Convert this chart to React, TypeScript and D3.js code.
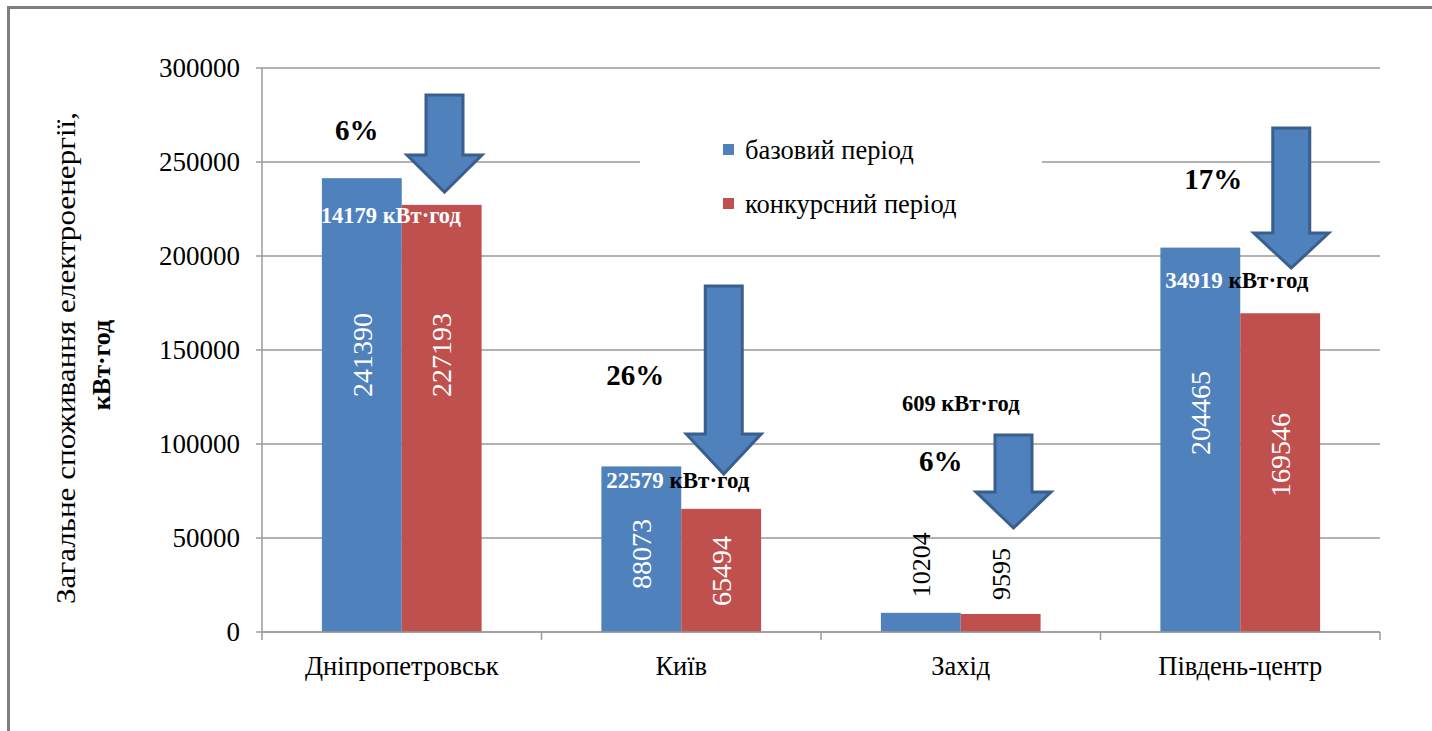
import React from "react";
import * as d3 from "d3";

const categories = ["Дніпропетровськ", "Київ", "Захід", "Південь-центр"];
const baseValues = [241390, 88073, 10204, 204465];
const contestValues = [227193, 65494, 9595, 169546];
const seriesNames = ["базовий період", "конкурсний період"];
const yTicks = [0, 50000, 100000, 150000, 200000, 250000, 300000];
// value at which each in-bar label is centred (as placed in the original)
const baseLabelAt = [147300, 41500, null, 116500];
const contestLabelAt = [147300, 32400, null, 94100];
const percentLabels = ["6%", "26%", "6%", "17%"];
const savingNumbers = ["14179", "22579", "609", "34919"];
const savingUnit = "кВт·год";
// arrows: top value, head-start value, tip value
const arrowTop = [285600, 184000, 104800, 268100];
const arrowHead = [253700, 105300, 74500, 212200];
const arrowTip = [234000, 84000, 55300, 193600];

const W = 1432;
const H = 731;
const BLUE = "#4f81bd";
const RED = "#c0504d";
const AXIS = "#9a9a9a";
const TF: React.CSSProperties = { fontFamily: "'Liberation Serif', 'Times New Roman', serif" };

export default function App() {
  const left = 262, right = 1380, top = 68, bottom = 632;
  const x = d3.scaleBand<string>().domain(categories).range([left, right]).paddingInner(0).paddingOuter(0);
  const band = x.bandwidth();
  const barW = band / 3.5;
  const y = d3.scaleLinear().domain([0, 300000]).range([bottom, top]);
  const cx = (i: number) => (x(categories[i]) as number) + band / 2;

  const arrowDx = [42.75, 42.5, 52.75, 51];
  const arrowPath = (i: number) => {
    const c = cx(i) + arrowDx[i];
    const sw = 18.5, hw = 37.5;
    const t = y(arrowTop[i]), h = y(arrowHead[i]), p = y(arrowTip[i]);
    return `M${c - sw},${t}L${c + sw},${t}L${c + sw},${h}L${c + hw},${h}L${c},${p}L${c - hw},${h}L${c - sw},${h}Z`;
  };

  const pctPos = [
    { dx: -45, v: 267000 },
    { dx: -46, v: 137000 },
    { dx: -20, v: 90800 },
    { dx: -27, v: 240800 },
  ];

  return (
    <svg width={W} height={H} style={{ position: "absolute", left: 0, top: 0, background: "#fff" }}>
      <rect x={0} y={0} width={W} height={H} fill="#fff" />
      <rect x={8.5} y={7.5} width={W + 20} height={H + 20} fill="none" stroke="#7f7f7f" strokeWidth={3} />

      {/* gridlines */}
      {yTicks.map((t) => (
        <line key={t} x1={left} x2={right} y1={y(t)} y2={y(t)} stroke={AXIS} strokeWidth={1.5} />
      ))}
      {/* y axis */}
      <line x1={left} x2={left} y1={top} y2={bottom} stroke={AXIS} strokeWidth={1.5} />
      {yTicks.map((t) => (
        <line key={"tk" + t} x1={left - 6} x2={left} y1={y(t)} y2={y(t)} stroke={AXIS} strokeWidth={1.5} />
      ))}
      {yTicks.map((t) => (
        <text key={"tl" + t} x={left - 22} y={y(t)} dy="0.35em" textAnchor="end" fontSize={27} fill="#000" style={TF}>
          {t}
        </text>
      ))}
      {/* category ticks */}
      {categories.map((c) => (
        <line key={"ct" + c} x1={x(c) as number} x2={x(c) as number} y1={bottom} y2={bottom + 8} stroke={AXIS} strokeWidth={1.5} />
      ))}
      <line x1={right} x2={right} y1={bottom} y2={bottom + 8} stroke={AXIS} strokeWidth={1.5} />

      {/* legend */}
      <rect x={640} y={112} width={402} height={120} fill="#fff" />
      <rect x={723} y={144} width={11} height={11} fill={BLUE} />
      <text x={745} y={150} dy="0.35em" fontSize={26.5} style={TF}>{seriesNames[0]}</text>
      <rect x={723} y={198} width={11} height={11} fill={RED} />
      <text x={745} y={204} dy="0.35em" fontSize={26.5} style={TF}>{seriesNames[1]}</text>

      {/* bars */}
      {categories.map((c, i) => {
        const x0 = cx(i) - barW;
        return (
          <g key={"b" + c}>
            <rect x={x0} y={y(baseValues[i])} width={barW} height={bottom - y(baseValues[i])} fill={BLUE} />
            <rect x={x0 + barW} y={y(contestValues[i])} width={barW} height={bottom - y(contestValues[i])} fill={RED} />
          </g>
        );
      })}
      <line x1={left} x2={right} y1={bottom} y2={bottom} stroke={AXIS} strokeWidth={1.5} />

      {/* value labels */}
      {categories.map((c, i) => {
        const bx = cx(i) - barW / 2;
        const rx = cx(i) + barW / 2;
        const inside = baseLabelAt[i] !== null;
        const by = inside ? y(baseLabelAt[i] as number) : y(baseValues[i]) - 48;
        const ry = inside ? y(contestLabelAt[i] as number) : y(contestValues[i]) - 40;
        const fill = inside ? "#fff" : "#000";
        const fs = inside ? 28 : 26;
        return (
          <g key={"vl" + c}>
            <text transform={`translate(${bx},${by}) rotate(-90)`} textAnchor="middle" dy="0.35em" fontSize={fs} fill={fill} style={TF}>{baseValues[i]}</text>
            <text transform={`translate(${rx},${ry}) rotate(-90)`} textAnchor="middle" dy="0.35em" fontSize={fs} fill={fill} style={TF}>{contestValues[i]}</text>
          </g>
        );
      })}

      {/* arrows */}
      {categories.map((c, i) => (
        <path key={"ar" + c} d={arrowPath(i)} fill={BLUE} stroke="#3a5f8c" strokeWidth={3} strokeLinejoin="miter" />
      ))}

      {/* percent labels */}
      {categories.map((c, i) => (
        <text key={"pc" + c} x={cx(i) + pctPos[i].dx} y={y(pctPos[i].v)} dy="0.35em" textAnchor="middle" fontSize={29} fontWeight="bold" style={TF}>
          {percentLabels[i]}
        </text>
      ))}

      {/* saving labels */}
      <text x={cx(0) - 81} y={y(222000)} dy="0.35em" fontSize={22.5} fontWeight="bold" fill="#fff" style={TF}>
        {savingNumbers[0]} {savingUnit}
      </text>
      <text x={cx(1) - 75} y={y(81000)} dy="0.35em" fontSize={23} fontWeight="bold" style={TF}>
        <tspan fill="#fff">{savingNumbers[1]}</tspan> <tspan fill="#000">{savingUnit}</tspan>
      </text>
      <text x={cx(2)} y={y(121500)} dy="0.35em" textAnchor="middle" fontSize={22.5} fontWeight="bold" style={TF}>
        {savingNumbers[2]} {savingUnit}
      </text>
      <text x={cx(3) - 75} y={y(187000)} dy="0.35em" fontSize={23} fontWeight="bold" style={TF}>
        <tspan fill="#fff">{savingNumbers[3]}</tspan> <tspan fill="#000">{savingUnit}</tspan>
      </text>

      {/* category labels */}
      {categories.map((c, i) => (
        <text key={"cl" + c} x={cx(i)} y={666} dy="0.35em" textAnchor="middle" fontSize={26.5} style={TF}>
          {c}
        </text>
      ))}

      {/* y axis title */}
      <text transform={`translate(66,358) rotate(-90)`} textAnchor="middle" dy="0.35em" fontSize={27} textLength={492} lengthAdjust="spacingAndGlyphs" style={TF}>
        Загальне споживання електроенергії,
      </text>
      <text transform={`translate(101,365) rotate(-90)`} textAnchor="middle" dy="0.35em" fontSize={26} fontWeight="bold" style={TF}>
        кВт·год
      </text>
    </svg>
  );
}
